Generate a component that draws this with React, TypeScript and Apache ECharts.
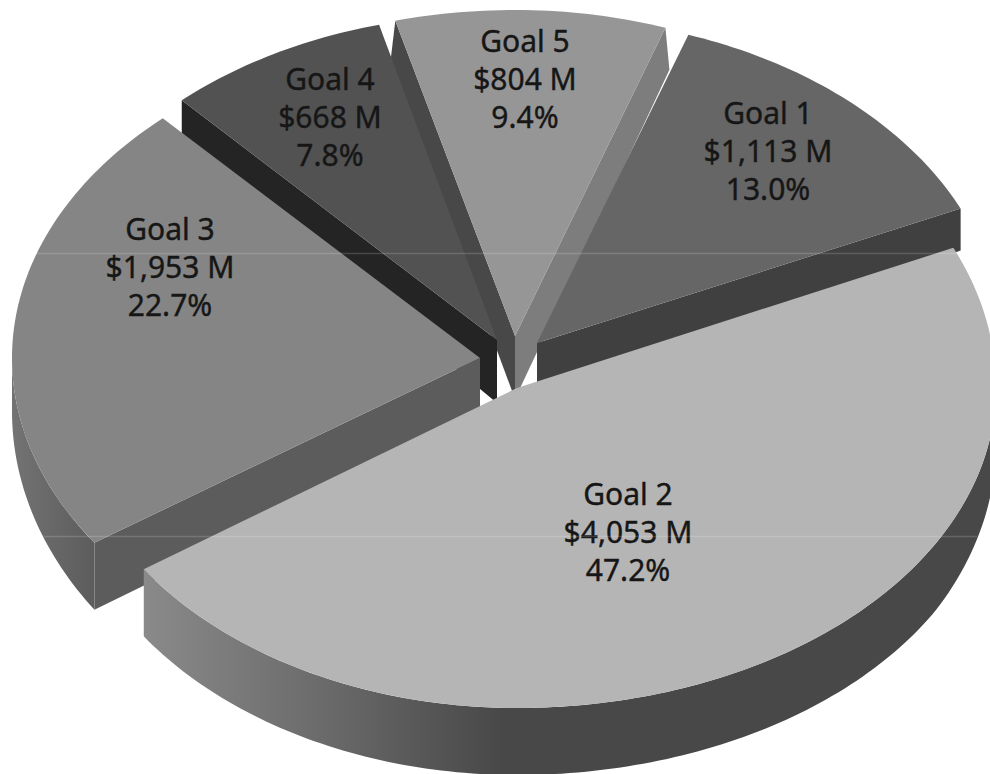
import React, { useEffect, useRef } from "react";
import * as echarts from "echarts";

const categories = ["Goal 1", "Goal 2", "Goal 3", "Goal 4", "Goal 5"];
const amounts = [1113, 4053, 1953, 668, 804];

// Paint order: back slices first, the big front slice last.
const drawOrder = [4, 3, 0, 2, 1];

// Layout of the exploded pie (pixels on the 990x774 page).
const WIDTH = 990;
const HEIGHT = 774;
const CENTER_X = 512;
const CENTER_Y = 360;
const START_ANGLE = -71;
const APEX_DEPTH = 63;
const explodeX = [25, 5, -32, -15, 3];
const explodeY = [-17, 28, -2, -20, -24];
// The perspective view makes each slice's rim slightly lopsided.
const radiusRight = [465, 479, 468, 472, 462];
const radiusLeft = [465, 453, 468, 465, 472];
const radiusTop = [326, 340, 326, 326, 326];
const radiusBottom = [320, 320, 326, 320, 320];
const startFaceLean = [0, 0, 0, 0, -5];
const endFaceLean = [0, 0, 0, 0, 4];
const labelDX = [231, 111, -310, -167, 10];
const labelDY = [-193, 143, -92, -224, -258];

// Colours
const topColors = ["#666666", "#b5b5b5", "#858585", "#525252", "#969696"];
const startFaceColors = [null, null, "#5c5c5c", "#242424", "#484848"];
const endFaceColors = ["#404040", null, null, null, "#7d7d7d"];

const total = amounts.reduce((a, b) => a + b, 0);

function depthAt(y: number) {
  const k = Math.max(0, Math.min(1, (y - 210) / 333));
  return 42 + 25 * k;
}

function sliceAngles(index: number) {
  let a = START_ANGLE;
  for (let i = 0; i < index; i++) a += (amounts[i] / total) * 360;
  return [a, a + (amounts[index] / total) * 360];
}

function rimPoints(index: number, a0: number, a1: number) {
  const ax = CENTER_X + explodeX[index];
  const ay = CENTER_Y + explodeY[index];
  const pts: number[][] = [];
  const steps = Math.max(2, Math.ceil(Math.abs(a1 - a0)));
  for (let s = 0; s <= steps; s++) {
    const t = ((a0 + ((a1 - a0) * s) / steps) * Math.PI) / 180;
    const c = Math.cos(t);
    const n = Math.sin(t);
    pts.push([
      ax + (c > 0 ? radiusRight[index] : radiusLeft[index]) * c,
      ay + (n > 0 ? radiusBottom[index] : radiusTop[index]) * n,
    ]);
  }
  return pts;
}

const lower = (p: number[], lean = 0) => [p[0] + lean, p[1] + depthAt(p[1])];

function wallGradient(index: number) {
  if (index === 1) {
    return new echarts.graphic.LinearGradient(0, 0, 1, 0, [
      { offset: 0, color: "#8a8a8a" },
      { offset: 0.2, color: "#6c6c6c" },
      { offset: 0.42, color: "#484848" },
      { offset: 1, color: "#484848" },
    ]);
  }
  return new echarts.graphic.LinearGradient(0, 0, 1, 0, [
    { offset: 0, color: "#737373" },
    { offset: 1, color: "#5c5c5c" },
  ]);
}

function renderSlice(_params: any, api: any) {
  const index = api.value(0) as number;
  const [a0, a1] = sliceAngles(index);
  const ax = CENTER_X + explodeX[index];
  const ay = CENTER_Y + explodeY[index];
  const apex = [ax, ay];
  const apexLow = [ax, ay + APEX_DEPTH];
  const rim = rimPoints(index, a0, a1);
  const first = rim[0];
  const last = rim[rim.length - 1];
  const children: any[] = [];

  const face = (p: number[], fill: string, lean: number) => ({
    type: "polygon",
    shape: { points: [apex, p, lower(p, lean), apexLow] },
    style: { fill },
  });
  const startFill = startFaceColors[index];
  const endFill = endFaceColors[index];
  if (startFill) children.push(face(first, startFill, startFaceLean[index]));
  if (endFill) children.push(face(last, endFill, endFaceLean[index]));

  // Outer wall: only the front half of the rim shows.
  const wallStart = Math.max(a0, 0);
  const wallEnd = Math.min(a1, 180);
  if (wallEnd > wallStart) {
    const part = rimPoints(index, wallStart, wallEnd);
    children.push({
      type: "polygon",
      shape: {
        points: [...part, ...part.slice().reverse().map((p) => lower(p))],
      },
      style: { fill: wallGradient(index) },
    });
  }

  // Top surface.
  children.push({
    type: "polygon",
    shape: { points: [apex, ...rim] },
    style: { fill: topColors[index] },
  });

  // Data label.
  const pct = ((amounts[index] / total) * 100).toFixed(1);
  const money = "$" + amounts[index].toLocaleString("en-US") + " M";
  children.push({
    type: "text",
    x: ax + labelDX[index],
    y: ay + labelDY[index],
    style: {
      text: `${categories[index]}\n${money}\n${pct}%`,
      fill: "#161616",
      stroke: "#161616",
      lineWidth: 0.4,
      font: '30px "Noto Sans"',
      lineHeight: 38,
      align: "center",
      verticalAlign: "middle",
    },
  });

  return { type: "group", children };
}

export default function App() {
  const ref = useRef<HTMLDivElement>(null);

  useEffect(() => {
    document.body.style.margin = "0";
    const chart = echarts.init(ref.current!, undefined, { renderer: "svg" });
    chart.setOption({
      animation: false,
      backgroundColor: "#ffffff",
      series: [
        {
          type: "custom",
          coordinateSystem: "none",
          renderItem: renderSlice,
          silent: true,
          data: drawOrder.map((i) => [i, amounts[i]]),
        },
      ],
      graphic: [
        {
          type: "line",
          z: 100,
          shape: { x1: 28, y1: 253.5, x2: 960, y2: 253.5 },
          style: { stroke: "rgba(255,255,255,0.16)", lineWidth: 1.5 },
        },
        {
          type: "line",
          z: 100,
          shape: { x1: 44, y1: 536.5, x2: 977, y2: 536.5 },
          style: { stroke: "rgba(255,255,255,0.16)", lineWidth: 1.5 },
        },
      ],
    });
    return () => chart.dispose();
  }, []);

  return (
    <div
      ref={ref}
      style={{ width: WIDTH, height: HEIGHT, overflow: "hidden" }}
    />
  );
}
